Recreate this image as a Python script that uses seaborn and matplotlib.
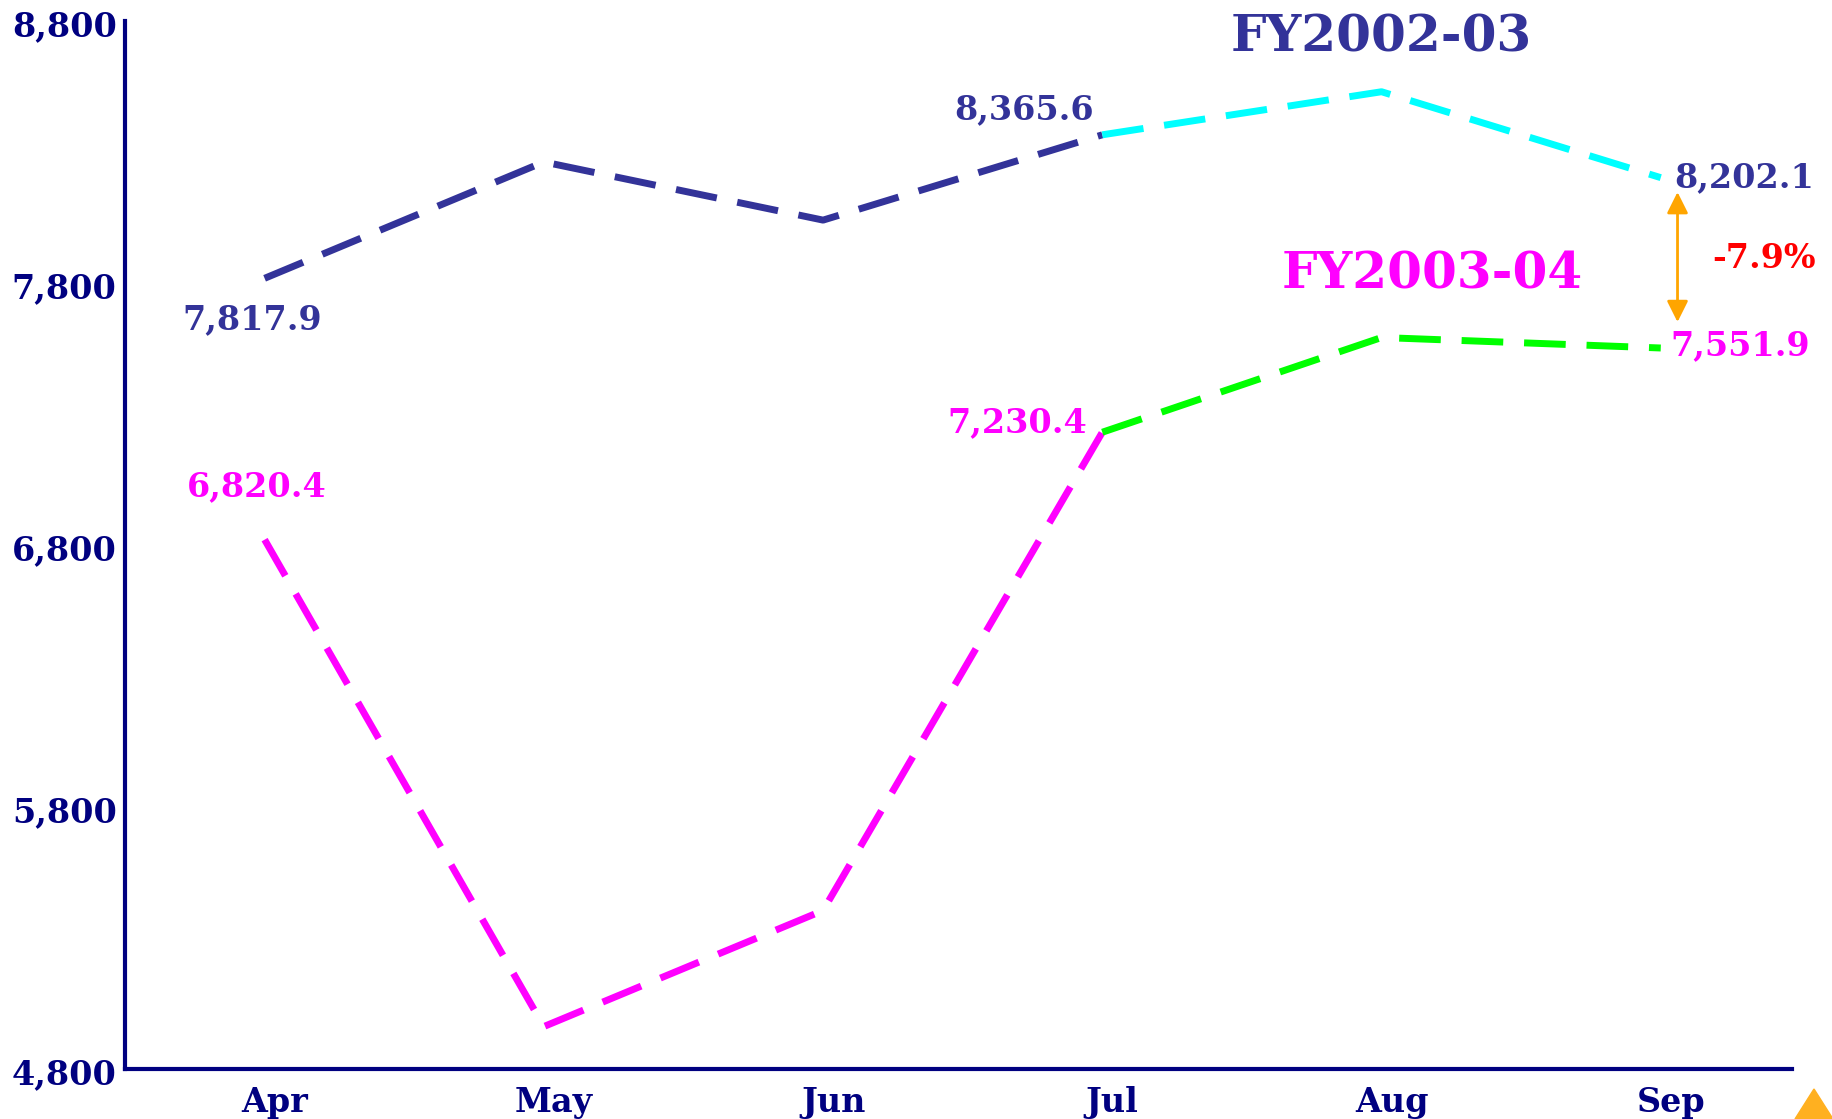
import numpy as np
import pandas as pd
import matplotlib
matplotlib.use("Agg")
import matplotlib.pyplot as plt
import seaborn as sns
from matplotlib.transforms import ScaledTranslation
from matplotlib.patches import Polygon

# ---- data ----
months = ["Apr", "May", "Jun", "Jul", "Aug", "Sep"]
fy0203 = [7817.9, 8262.0, 8040.0, 8365.6, 8530.0, 8202.1]
fy0304 = [6820.4, 4962.0, 5405.0, 7230.4, 7592.0, 7551.9]
yticks = [4800, 5800, 6800, 7800, 8800]
ytick_labels = ["4,800", "5,800", "6,800", "7,800", "8,800"]
change_label = "-7.9%"

sns.set_theme(style="white")
plt.rcParams["font.family"] = ["DejaVu Serif"]
plt.rcParams["font.weight"] = "bold"

NAVY = "#000080"
C1A, C1B = "#333399", "#00FFFF"
C2A, C2B = "#FF00FF", "#00FF00"

fig = plt.figure(figsize=(18.33, 11.19), dpi=100)
ax = fig.add_axes([125 / 1833, 50 / 1119, (1792 - 125) / 1833, (1069 - 21) / 1119])

x = np.arange(len(months))
df = pd.DataFrame({"x": x, "a": fy0203, "b": fy0304})

lw = 5.0
dash = (6, 3)
segs = [("a", slice(0, 4), C1A), ("a", slice(3, 6), C1B),
        ("b", slice(0, 4), C2A), ("b", slice(3, 6), C2B)]
for col, sl, c in segs:
    d = df.iloc[sl]
    sns.lineplot(data=d, x="x", y=col, ax=ax, color=c, linewidth=lw,
                 dashes=False, legend=False, sort=False)
    ax.lines[-1].set_dashes(dash)

ax.set_xlim(-0.5, 5.47)
ax.set_ylim(4800, 8800)
ax.set_xticks(x)
ax.set_xticklabels(months)
ax.set_yticks(yticks)
ax.set_yticklabels(ytick_labels)
ax.set_xlabel("")
ax.set_ylabel("")
ax.tick_params(axis="both", length=0, labelsize=24, labelcolor=NAVY)
ax.tick_params(axis="x", pad=12)
ax.tick_params(axis="y", pad=6)
for lab in ax.get_xticklabels():
    lab.set_fontweight("bold")
    lab.set_transform(lab.get_transform() + ScaledTranslation(0.10, 0, fig.dpi_scale_trans))
for lab in ax.get_yticklabels():
    lab.set_fontweight("bold")
    lab.set_transform(lab.get_transform() + ScaledTranslation(0, -0.02, fig.dpi_scale_trans))

for s in ["top", "right"]:
    ax.spines[s].set_visible(False)
for s in ["left", "bottom"]:
    ax.spines[s].set_color(NAVY)
    ax.spines[s].set_linewidth(3)

fs = 24
def lab(i, vals, txt, dx, dy, color, ha="center"):
    ax.annotate(txt, (x[i], vals[i]), xytext=(dx, dy), textcoords="offset points",
                ha=ha, va="center", fontsize=fs, fontweight="bold", color=color)

lab(0, fy0203, "7,817.9", -9, -30, C1A)
lab(3, fy0203, "8,365.6", -6, 18, C1A, ha="right")
lab(5, fy0203, "8,202.1", 10, 0, C1A, ha="left")
lab(0, fy0304, "6,820.4", -6, 38, C2A)
lab(3, fy0304, "7,230.4", -11, 7, C2A, ha="right")
lab(5, fy0304, "7,551.9", 7, 2, C2A, ha="left")

ax.text(4.0, 8735, "FY2002-03", ha="center", va="center", fontsize=36,
        fontweight="bold", color=C1A)
ax.text(4.18, 7830, "FY2003-04", ha="center", va="center", fontsize=36,
        fontweight="bold", color=C2A)
ax.text(5.37, 7893, change_label, ha="center", va="center", fontsize=24,
        fontweight="bold", color="#FF0000")

ax.annotate("", xy=(5.06, 7651), xytext=(5.06, 8147),
            arrowprops=dict(arrowstyle="<|-|>", color="#FFA500", lw=2,
                            mutation_scale=32, shrinkA=0, shrinkB=0))

# small logo in corner
logo = Polygon([[1795 / 1833, 0], [1833 / 1833, 0], [1814 / 1833, 30 / 1119]],
               closed=True, transform=fig.transFigure, color="#FFB020", clip_on=False)
fig.patches.append(logo)

fig.savefig("out.png", dpi=100)
